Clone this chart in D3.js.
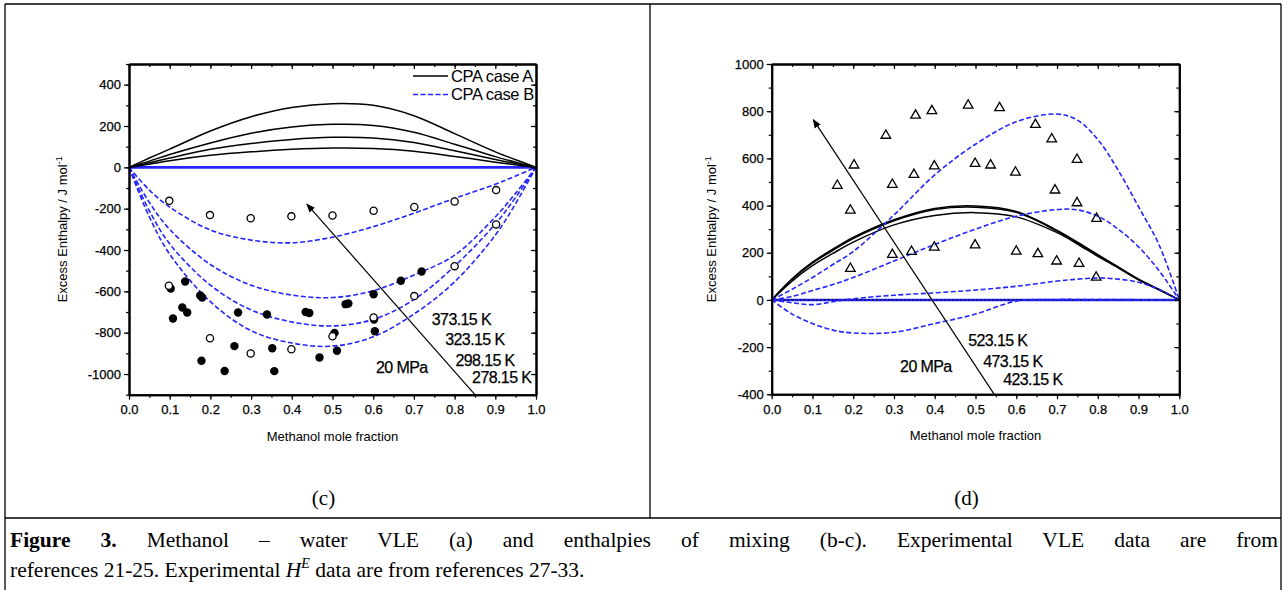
<!DOCTYPE html>
<html>
<head>
<meta charset="utf-8">
<script src="https://cdn.jsdelivr.net/npm/d3@7"></script>
<style>
  body { margin: 0; background: #fff; }
  svg { display: block; }
  .ax text { font-family: "Liberation Sans", Arial, sans-serif; font-size: 13px; fill: #000; stroke: #000; stroke-width: 0.25px; }
</style>
</head>
<body>
<div id="fig"></div>
<script>
// ---- data ----
// x grid used for the model curves
var gridX = [0, 0.05, 0.1, 0.2, 0.3, 0.4, 0.5, 0.6, 0.7, 0.8, 0.9, 0.95, 1.0];

// panel (c): CPA case A (black solid), 373.15 / 323.15 / 298.15 / 278.15 K
var cA373 = [0, 45, 88, 176, 245, 290, 308, 300, 250, 163, 75, 37, 0];
var cA323 = [0, 30, 62, 118, 165, 195, 208, 203, 170, 112, 52, 25, 0];
var cA298 = [0, 22, 45, 87, 115, 135, 145, 142, 120, 80, 38, 18, 0];
var cA278 = [0, 15, 32, 58, 75, 87, 93, 91, 78, 53, 25, 12, 0];
// panel (c): CPA case B (blue dashed)
var cB373 = [0, -110, -192, -303, -352, -365, -338, -287, -222, -150, -82, -42, 0];
var cB323 = [0, -170, -300, -470, -570, -618, -630, -597, -521, -425, -240, -125, 0];
var cB298 = [0, -210, -370, -570, -690, -748, -767, -736, -640, -478, -274, -145, 0];
var cB278 = [0, -240, -420, -650, -790, -850, -865, -820, -710, -554, -328, -175, 0];

// panel (c): experimental points
var cOpenX = [0.099, 0.199, 0.299, 0.399, 0.5, 0.601, 0.701, 0.80, 0.902, 0.902,
              0.098, 0.199, 0.299, 0.399, 0.5, 0.601, 0.701, 0.80];
var cOpenY = [-162, -231, -246, -237, -233, -210, -192, -165, -110, -276,
              -573, -827, -901, -880, -817, -726, -623, -478];
var cFillX = [0.1025, 0.138, 0.175, 0.18, 0.131, 0.143, 0.108, 0.268, 0.339, 0.434, 0.443,
              0.532, 0.539, 0.259, 0.352, 0.178, 0.235, 0.357, 0.468, 0.505, 0.511,
              0.601, 0.668, 0.719, 0.602, 0.604];
var cFillY = [-586, -552, -620, -630, -678, -702, -731, -702, -712, -700, -705,
              -662, -659, -865, -875, -936, -985, -986, -920, -801, -887,
              -614, -549, -504, -736, -793];

// panel (d): x grid for its curves
var gridXd = [0, 0.05, 0.1, 0.15, 0.2, 0.3, 0.4, 0.5, 0.6, 0.7, 0.75, 0.8, 0.85, 0.9, 0.95, 1.0];
// CPA case A (black solid), 523.15 / 473.15 / 423.15 K
var dA523 = [0, 90, 160, 215, 265, 340, 388, 398, 375, 295, 245, 192, 140, 88, 45, 0];
var dA473 = [0, 87, 156, 210, 260, 335, 383, 393, 371, 292, 243, 190, 139, 87, 44, 0];
var dA423 = [0, 80, 145, 197, 245, 318, 358, 370, 352, 285, 237, 185, 136, 85, 43, 0];
// CPA case B (blue dashed)
var dB523 = [0, 45, 95, 150, 205, 360, 530, 660, 755, 788, 762, 680, 550, 395, 235, 0];
var dB473 = [0, 15, 40, 65, 95, 165, 235, 300, 355, 383, 382, 355, 300, 225, 125, 0];
var dB423 = [0, -12, -20, -8, 5, 20, 30, 42, 58, 80, 88, 93, 88, 75, 45, 0];
var dB423b = [0, -60, -100, -128, -140, -137, -100, -60, -5, 2, 2, 2, 2, 1, 1, 0];

// panel (d): experimental points (triangles)
var dTriX = [0.161, 0.202, 0.193, 0.193, 0.280, 0.296, 0.296, 0.343, 0.349, 0.353, 0.393,
             0.399, 0.399, 0.482, 0.499, 0.499, 0.537, 0.559, 0.598, 0.600, 0.647, 0.653,
             0.687, 0.695, 0.699, 0.749, 0.749, 0.754, 0.797, 0.796];
var dTriY = [485, 571, 380, 133, 697, 489, 192, 205, 531, 782, 801,
             567, 223, 825, 578, 232, 571, 814, 541, 206, 743, 195,
             682, 465, 164, 595, 411, 154, 345, 96];

// annotations (data coordinates)
var cLabels = ["373.15 K", "323.15 K", "298.15 K", "278.15 K", "20 MPa"];
var cLabelX = [0.744, 0.777, 0.802, 0.843, 0.607];
var cLabelY = [-764, -861, -962, -1043, -996];
var dLabels = ["523.15 K", "473.15 K", "423.15 K", "20 MPa"];
var dLabelX = [0.482, 0.519, 0.568, 0.315];
var dLabelY = [-197, -286, -362, -307];

var BLUE = "#2424ff";
var W = 1283, H = 590;

var svg = d3.select("#fig").append("svg")
    .attr("width", W)
    .attr("height", H);

svg.append("rect").attr("width", W).attr("height", H).attr("fill", "#fff");

var defs = svg.append("defs");
defs.append("marker")
    .attr("id", "head")
    .attr("viewBox", "0 0 10 10")
    .attr("refX", 9).attr("refY", 5)
    .attr("markerWidth", 9).attr("markerHeight", 9)
    .attr("markerUnits", "userSpaceOnUse")
    .attr("orient", "auto")
  .append("path")
    .attr("d", "M0,1 L10,5 L0,9 Z")
    .attr("fill", "#000");

// table frame
var frame = svg.append("g").attr("stroke", "#000").attr("stroke-width", 1.3);
frame.append("line").attr("x1", 5).attr("x2", 5).attr("y1", 4).attr("y2", H);
frame.append("line").attr("x1", 1281).attr("x2", 1281).attr("y1", 4).attr("y2", H);
frame.append("line").attr("x1", 5).attr("x2", 1281).attr("y1", 4).attr("y2", 4);
frame.append("line").attr("x1", 650).attr("x2", 650).attr("y1", 4).attr("y2", 518);
frame.append("line").attr("x1", 5).attr("x2", 1281).attr("y1", 518).attr("y2", 518);

function toPts(xs, ys) {
  return xs.map(function(d, i) { return [d, ys[i]]; });
}

function drawPanel(p) {
  var x = d3.scaleLinear().domain([0, 1]).range([p.left, p.right]);
  var y = d3.scaleLinear().domain(p.yDomain).range([p.bottom, p.top]);
  var g = svg.append("g");

  var clipId = "clip" + p.id;
  defs.append("clipPath").attr("id", clipId)
    .append("rect")
      .attr("x", p.left).attr("y", p.top)
      .attr("width", p.right - p.left).attr("height", p.bottom - p.top);

  var line = d3.line()
    .x(function(d) { return x(d[0]); })
    .y(function(d) { return y(d[1]); })
    .curve(d3.curveCatmullRom.alpha(0.5));

  var plot = g.append("g").attr("clip-path", "url(#" + clipId + ")");

  // zero line
  plot.append("line")
    .attr("x1", x(0)).attr("x2", x(1)).attr("y1", y(0)).attr("y2", y(0))
    .attr("stroke", BLUE).attr("stroke-width", 2.6);
  if (p.zeroDots) {
    plot.append("line")
      .attr("x1", x(0)).attr("x2", x(1)).attr("y1", y(0)).attr("y2", y(0))
      .attr("stroke", "#000").attr("stroke-width", 1).attr("stroke-dasharray", "2,2");
  }

  p.caseA.forEach(function(s) {
    plot.append("path")
      .attr("d", line(toPts(p.gx, s)))
      .attr("fill", "none").attr("stroke", "#000").attr("stroke-width", 1.5);
  });
  p.caseB.forEach(function(s) {
    plot.append("path")
      .attr("d", line(toPts(p.gx, s)))
      .attr("fill", "none").attr("stroke", BLUE).attr("stroke-width", 1.6)
      .attr("stroke-dasharray", "5,2.5");
  });

  // experimental points
  if (p.fill) {
    plot.selectAll(".fp").data(toPts(p.fill[0], p.fill[1])).enter().append("circle")
      .attr("cx", function(d) { return x(d[0]); })
      .attr("cy", function(d) { return y(d[1]); })
      .attr("r", 4.2).attr("fill", "#000");
  }
  if (p.open) {
    plot.selectAll(".op").data(toPts(p.open[0], p.open[1])).enter().append("circle")
      .attr("cx", function(d) { return x(d[0]); })
      .attr("cy", function(d) { return y(d[1]); })
      .attr("r", 3.6).attr("fill", "#fff").attr("stroke", "#000").attr("stroke-width", 1.3);
  }
  if (p.tri) {
    var sym = d3.symbol().type(d3.symbolTriangle).size(40);
    plot.selectAll(".tp").data(toPts(p.tri[0], p.tri[1])).enter().append("path")
      .attr("d", sym)
      .attr("transform", function(d) { return "translate(" + x(d[0]) + "," + y(d[1]) + ")"; })
      .attr("fill", "none").attr("stroke", "#000").attr("stroke-width", 1.3);
  }

  // arrow
  g.append("line")
    .attr("x1", x(p.arrow[0])).attr("y1", y(p.arrow[1]))
    .attr("x2", x(p.arrow[2])).attr("y2", y(p.arrow[3]))
    .attr("stroke", "#000").attr("stroke-width", 1.2)
    .attr("marker-end", "url(#head)");

  // labels
  p.labels.forEach(function(t, i) {
    g.append("text")
      .attr("x", x(p.labelX[i])).attr("y", y(p.labelY[i]))
      .attr("font-family", "Liberation Sans, Arial, sans-serif")
      .attr("font-size", 16).attr("letter-spacing", "-0.6px")
      .attr("stroke", "#000").attr("stroke-width", 0.25)
      .text(t);
  });

  // axes
  var fmtY = function(d) { return String(d); };
  var majorY = d3.range(p.yMajor[0], p.yMajor[1] + 1, 200);
  var minorY = d3.range(p.yDomain[0], p.yDomain[1] + 1, 100);
  var majorX = d3.range(0, 11).map(function(i) { return i / 10; });
  var minorX = d3.range(0, 21).map(function(i) { return i / 20; });

  g.append("g").attr("class", "ax").attr("transform", "translate(" + p.left + ",0)")
    .call(d3.axisLeft(y).tickValues(minorY).tickFormat("").tickSize(3).tickSizeOuter(0));
  g.append("g").attr("class", "ax").attr("transform", "translate(" + p.left + ",0)")
    .call(d3.axisLeft(y).tickValues(majorY).tickFormat(fmtY).tickSize(5).tickPadding(3).tickSizeOuter(0));
  g.append("g").attr("class", "ax").attr("transform", "translate(0," + p.bottom + ")")
    .call(d3.axisBottom(x).tickValues(minorX).tickFormat("").tickSize(3).tickSizeOuter(0));
  g.append("g").attr("class", "ax").attr("transform", "translate(0," + p.bottom + ")")
    .call(d3.axisBottom(x).tickValues(majorX).tickFormat(d3.format(".1f")).tickSize(5).tickPadding(5).tickSizeOuter(0));
  // inner ticks on top and right
  g.append("g").attr("class", "ax").attr("transform", "translate(0," + p.top + ")")
    .call(d3.axisTop(x).tickValues(minorX).tickFormat("").tickSize(-3).tickSizeOuter(0));
  g.append("g").attr("class", "ax").attr("transform", "translate(0," + p.top + ")")
    .call(d3.axisTop(x).tickValues(majorX).tickFormat("").tickSize(-5).tickSizeOuter(0));
  g.append("g").attr("class", "ax").attr("transform", "translate(" + p.right + ",0)")
    .call(d3.axisRight(y).tickValues(minorY).tickFormat("").tickSize(-3).tickSizeOuter(0));
  g.append("g").attr("class", "ax").attr("transform", "translate(" + p.right + ",0)")
    .call(d3.axisRight(y).tickValues(majorY).tickFormat("").tickSize(-5).tickSizeOuter(0));

  g.selectAll(".ax .domain").attr("stroke", "#000").attr("stroke-width", 2);
  g.selectAll(".ax .tick line").attr("stroke", "#000").attr("stroke-width", 1.2);

  // axis titles
  g.append("text")
    .attr("x", (p.left + p.right) / 2).attr("y", p.bottom + 46)
    .attr("text-anchor", "middle")
    .attr("font-family", "Liberation Sans, Arial, sans-serif").attr("font-size", 13)
    .text("Methanol mole fraction");
  var yt = g.append("text")
    .attr("transform", "translate(" + (p.left - p.titleOff) + "," + ((p.top + p.bottom) / 2) + ") rotate(-90)")
    .attr("text-anchor", "middle")
    .attr("font-family", "Liberation Sans, Arial, sans-serif").attr("font-size", 13);
  yt.append("tspan").text("Excess Enthalpy / J mol");
  yt.append("tspan").attr("dy", -5).attr("font-size", 9).text("-1");

  // legend
  if (p.legend) {
    var lx = p.right - 123, ly = p.top + 12;
    [["CPA case A", "#000", null], ["CPA case B", BLUE, "5,2.5"]].forEach(function(e, i) {
      g.append("line")
        .attr("x1", lx).attr("x2", lx + 35).attr("y1", ly + i * 18.6).attr("y2", ly + i * 18.6)
        .attr("stroke", e[1]).attr("stroke-width", 1.5)
        .attr("stroke-dasharray", e[2]);
      g.append("text")
        .attr("x", lx + 38).attr("y", ly + i * 18.6 + 5.5)
        .attr("font-family", "Liberation Sans, Arial, sans-serif")
        .attr("font-size", 16.5).attr("letter-spacing", "-0.4px")
        .text(e[0]);
    });
  }

  // panel caption
  svg.append("text")
    .attr("x", (p.left + p.right) / 2 - 9).attr("y", 505)
    .attr("text-anchor", "middle")
    .attr("font-family", "Liberation Serif, Times New Roman, serif").attr("font-size", 21)
    .text(p.tag);
}

drawPanel({
  id: "c", left: 129, right: 536, top: 64, bottom: 394.7,
  yDomain: [-1100, 500], yMajor: [-1000, 400], titleOff: 62,
  gx: gridX,
  caseA: [cA373, cA323, cA298, cA278],
  caseB: [cB373, cB323, cB298, cB278],
  open: [cOpenX, cOpenY], fill: [cFillX, cFillY],
  arrow: [0.85, -1100, 0.437, -178],
  labels: cLabels, labelX: cLabelX, labelY: cLabelY,
  legend: true, tag: "(c)"
});

drawPanel({
  id: "d", left: 771.7, right: 1179.3, top: 64, bottom: 394.3,
  yDomain: [-400, 1000], yMajor: [-400, 1000], titleOff: 56,
  gx: gridXd,
  caseA: [dA523, dA473, dA423],
  caseB: [dB523, dB473, dB423, dB423b],
  tri: [dTriX, dTriY], zeroDots: true,
  arrow: [0.546, -400, 0.102, 764],
  labels: dLabels, labelX: dLabelX, labelY: dLabelY,
  legend: false, tag: "(d)"
});

// figure caption
var cap1 = svg.append("text")
  .attr("x", 10).attr("y", 547)
  .attr("font-family", "Liberation Serif, Times New Roman, serif").attr("font-size", 21.5);
cap1.append("tspan").attr("font-weight", "bold").text("Figure 3.");
cap1.append("tspan").text(" Methanol \u2013 water VLE (a) and enthalpies of mixing (b-c). Experimental VLE data are from");
var target = 1278 - 10;
var len = cap1.node().getComputedTextLength();
var gaps = cap1.text().split(" ").length - 1;
if (len < target) cap1.attr("word-spacing", ((target - len) / gaps) + "px");

var cap2 = svg.append("text")
  .attr("x", 10).attr("y", 577)
  .attr("font-family", "Liberation Serif, Times New Roman, serif").attr("font-size", 21.5);
cap2.append("tspan").text("references 21-25. Experimental ");
cap2.append("tspan").attr("font-style", "italic").text("H");
cap2.append("tspan").attr("font-style", "italic").attr("font-size", 14).attr("dy", -9).text("E");
cap2.append("tspan").attr("dy", 9).text(" data are from references 27-33.");
</script>
</body>
</html>
